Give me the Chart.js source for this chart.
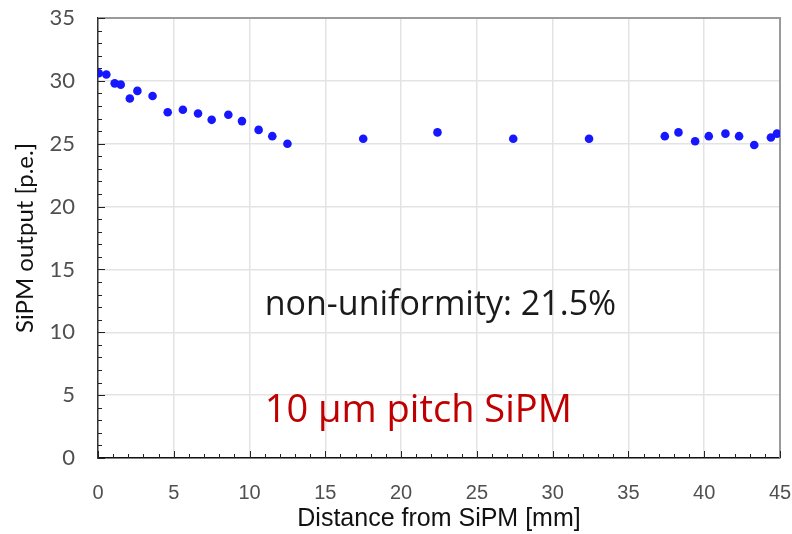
<!DOCTYPE html>
<html>
<head>
<meta charset="utf-8">
<script src="https://cdn.jsdelivr.net/npm/chart.js@4/dist/chart.umd.min.js"></script>
<style>
html,body{margin:0;padding:0;background:#fff;}
#wrap{width:792px;height:534px;position:relative;}
</style>
</head>
<body>
<div id="wrap"><canvas id="c" width="792" height="534"></canvas></div>
<script>
const distanceMm = [0.05, 0.55, 1.1, 1.5, 2.1, 2.6, 3.6, 4.6, 5.6, 6.6, 7.5, 8.6, 9.5, 10.6, 11.5, 12.5, 17.5, 22.4, 27.4, 32.4, 37.4, 38.3, 39.4, 40.3, 41.4, 42.3, 43.3, 44.4, 44.8];
const sipmOutput = [30.6, 30.5, 29.8, 29.7, 28.6, 29.2, 28.8, 27.5, 27.7, 27.4, 26.9, 27.3, 26.8, 26.1, 25.6, 25.0, 25.4, 25.9, 25.4, 25.4, 25.6, 25.9, 25.2, 25.6, 25.8, 25.6, 24.9, 25.5, 25.8];
const xTickLabels = ['0','5','10','15','20','25','30','35','40','45'];
const yTickLabels = ['0','5','10','15','20','25','30','35'];
const annotations = ['non-uniformity: 21.5%', '10 \u00b5m pitch SiPM'];

const points = distanceMm.map((x, i) => ({x: x, y: sipmOutput[i]}));

const frameAndTicks = {
  id: 'frameAndTicks',
  beforeDatasetsDraw(chart) {
    const {ctx, chartArea: a, scales: {x, y}} = chart;
    ctx.save();
    ctx.strokeStyle = '#9a9a9a';
    ctx.lineWidth = 2;
    ctx.beginPath();
    ctx.moveTo(a.left, a.top);
    ctx.lineTo(a.right, a.top);
    ctx.lineTo(a.right, a.bottom);
    ctx.stroke();
    ctx.strokeStyle = '#222';
    ctx.lineWidth = 1;
    ctx.beginPath();
    for (let v = 0; v <= 45; v++) {
      const px = Math.round(x.getPixelForValue(v)) + 0.5;
      const len = v % 5 === 0 ? 7 : 4;
      ctx.moveTo(px, a.bottom);
      ctx.lineTo(px, a.bottom - len);
    }
    for (let v = 0; v <= 35; v++) {
      const py = Math.round(y.getPixelForValue(v)) + 0.5;
      const len = v % 5 === 0 ? 7 : 4;
      ctx.moveTo(a.left, py);
      ctx.lineTo(a.left + len, py);
    }
    ctx.stroke();
    ctx.restore();
  },
  afterDatasetsDraw(chart) {
    const {ctx, scales: {x, y}} = chart;
    ctx.save();
    ctx.textBaseline = 'alphabetic';
    ctx.textAlign = 'left';
    ctx.font = "34px 'Open Sans', Lato, sans-serif";
    ctx.fillStyle = '#1a1a1a';
    ctx.fillText(annotations[0], x.getPixelForValue(11.0), y.getPixelForValue(11.38));
    ctx.font = "38px 'Open Sans', Lato, sans-serif";
    ctx.fillStyle = '#c00000';
    ctx.fillText(annotations[1], x.getPixelForValue(11.0), y.getPixelForValue(2.89));
    ctx.restore();
  }
};

new Chart(document.getElementById('c'), {
  type: 'scatter',
  data: {
    datasets: [{
      data: points,
      backgroundColor: 'rgb(22,22,255)',
      borderColor: 'rgb(22,22,255)',
      pointRadius: 4.3,
      pointHoverRadius: 4.3,
      borderWidth: 0
    }]
  },
  options: {
    responsive: false,
    animation: false,
    layout: {autoPadding: false, padding: {left: 0, right: 12, top: 18, bottom: 0}},
    plugins: {legend: {display: false}, tooltip: {enabled: false}},
    scales: {
      x: {
        type: 'linear', min: 0, max: 45,
        afterBuildTicks(s) { s.ticks = xTickLabels.map(t => ({value: Number(t)})); },
        afterFit(s) { s.height = 76; s.paddingLeft = 0; s.paddingRight = 0; },
        ticks: {
          autoSkip: false, maxRotation: 0, padding: 23,
          color: '#505050', font: {family: "'Liberation Sans', Arial, sans-serif", size: 20},
          callback: (v, i) => xTickLabels[i]
        },
        grid: {drawTicks: false, color: '#e3e3e3', lineWidth: 1.5},
        border: {color: '#111', width: 1.5},
        title: {display: true, text: 'Distance from SiPM [mm]', color: '#111',
          font: {family: "'Liberation Sans', Arial, sans-serif", size: 25}, padding: {top: 0, bottom: 0}}
      },
      y: {
        type: 'linear', min: 0, max: 35,
        afterBuildTicks(s) { s.ticks = yTickLabels.map(t => ({value: Number(t)})); },
        afterFit(s) { s.width = 98; s.paddingTop = 0; s.paddingBottom = 0; },
        ticks: {
          autoSkip: false, padding: 23,
          color: '#505050', font: {family: "Lato, 'Open Sans', sans-serif", size: 22},
          callback: (v, i) => yTickLabels[i]
        },
        grid: {drawTicks: false, color: '#e3e3e3', lineWidth: 1.5},
        border: {color: '#333', width: 1.5},
        title: {display: true, text: 'SiPM output [p.e.]', color: '#111',
          font: {family: "Lato, 'Open Sans', sans-serif", size: 24}, padding: {top: 11, bottom: 0}}
      }
    }
  },
  plugins: [frameAndTicks]
});
</script>
</body>
</html>
